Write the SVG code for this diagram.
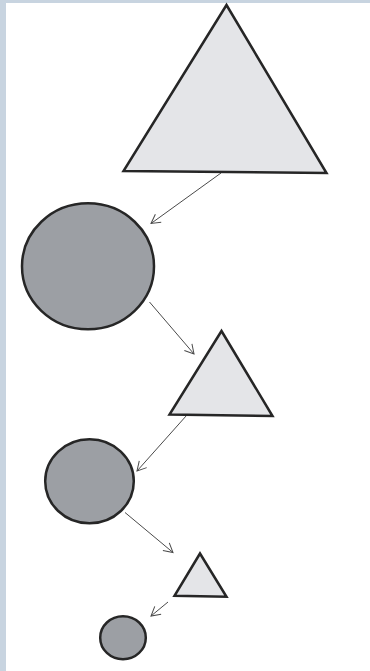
<svg xmlns="http://www.w3.org/2000/svg" width="370" height="671" viewBox="0 0 370 671">
<style>
.tri{fill:#e4e5e8;stroke:#262626;stroke-width:2.5;stroke-linejoin:miter}
.cir{fill:#9c9fa4;stroke:#262626;stroke-width:2.5}
.con{stroke:#4a4a4a;stroke-width:1;fill:none;marker-end:url(#ah)}
</style>
<defs>
<marker id="ah" markerWidth="12" markerHeight="12" refX="10" refY="6" orient="auto" markerUnits="userSpaceOnUse">
<path d="M1,1 L10,6 L1,11" fill="none" stroke="#4a4a4a" stroke-width="1"/>
</marker>
</defs>
<rect x="0" y="0" width="370" height="671" fill="#ffffff"/>
<rect x="0" y="0" width="370" height="3" fill="#c8d4e0"/>
<rect x="0" y="0" width="6" height="671" fill="#c8d4e0"/>
<g id="connectors">
<line class="con" x1="221" y1="173" x2="151" y2="223.5"/>
<line class="con" x1="149.5" y1="302" x2="194" y2="354"/>
<line class="con" x1="186.5" y1="415.5" x2="137" y2="471"/>
<line class="con" x1="125" y1="512.5" x2="173" y2="552.5"/>
<line class="con" x1="168" y1="602" x2="151" y2="616"/>
</g>
<g id="triangle1"><polygon class="tri" points="226.5,5 123.5,171 326.5,173"/></g>
<g id="circle1"><ellipse class="cir" cx="88" cy="266.3" rx="66" ry="63"/></g>
<g id="triangle2"><polygon class="tri" points="221.5,331 169.5,414.5 272.5,416"/></g>
<g id="circle2"><ellipse class="cir" cx="89.5" cy="481.3" rx="44.3" ry="42"/></g>
<g id="triangle3"><polygon class="tri" points="200,553.5 174.5,595.8 226.5,596.8"/></g>
<g id="circle3"><ellipse class="cir" cx="123" cy="637.7" rx="22.8" ry="21.5"/></g>
</svg>
